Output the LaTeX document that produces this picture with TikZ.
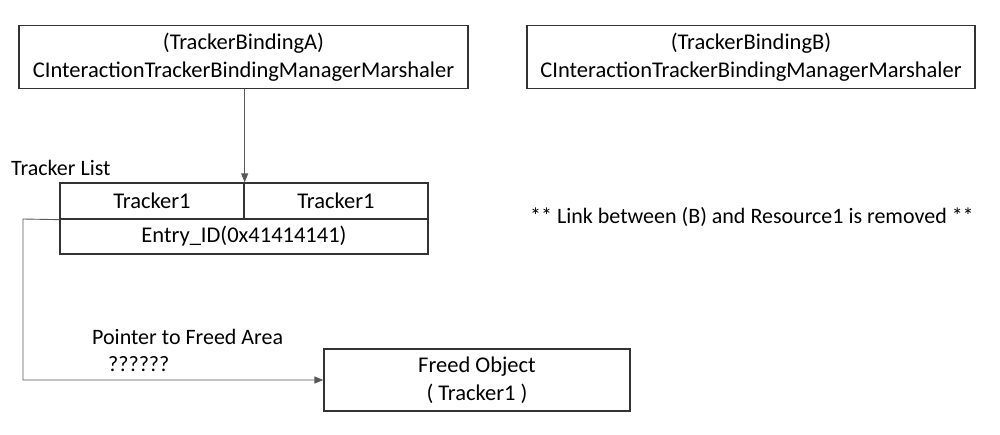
\documentclass[tikz,border=0pt]{standalone}
\usepackage{fontspec}
\setmainfont{Carlito}
\usetikzlibrary{arrows.meta}
\begin{document}
\begin{tikzpicture}[x=1pt,y=-1pt,
  box/.style={draw=black!80,line width=1.3pt,inner sep=0pt,align=center,font=\fontsize{22.5}{27.5}\selectfont},
  lbl/.style={inner sep=0pt,font=\fontsize{22}{24}\selectfont},
  conn/.style={draw=black!65,line width=0.9pt},
  tip/.style={-{Triangle[length=9pt,width=7pt]}}]
\useasboundingbox (0,0) rectangle (1000,434);
% top boxes
\node[box,minimum width=449pt,minimum height=62.5pt] (A) at (243.5,57) {(TrackerBindingA)\\CInteractionTrackerBindingManagerMarshaler};
\node[box,minimum width=448pt,minimum height=62.5pt] (B) at (751,57) {(TrackerBindingB)\\CInteractionTrackerBindingManagerMarshaler};
% tracker list
\node[box,minimum width=184pt,minimum height=36pt] (t1) at (152,201) {Tracker1};
\node[box,minimum width=184pt,minimum height=36pt] (t2) at (336,201) {Tracker1};
\node[box,minimum width=368pt,minimum height=35pt] (e) at (244,236.5) {Entry\_ID(0x41414141)};
\node[lbl,anchor=west] (tl) at (11,168) {Tracker List};
% freed object
\node[box,minimum width=306pt,minimum height=62pt] (F) at (477,380) {Freed Object\\( Tracker1 )};
\node[lbl,anchor=west] (p) at (92,337) {Pointer to Freed Area};
\node[lbl,anchor=west] (q) at (108,364) {??????};
\node[lbl,anchor=west] (n) at (530,217) {** Link between (B) and Resource1 is removed **};
\coordinate (c1) at (23,219);
% connectors
\draw[conn,tip] (A.south -| t1.north east) -- (t1.north east);
\draw[conn,tip] (t1.south west) -- (c1) |- (F.west);
\end{tikzpicture}
\end{document}
